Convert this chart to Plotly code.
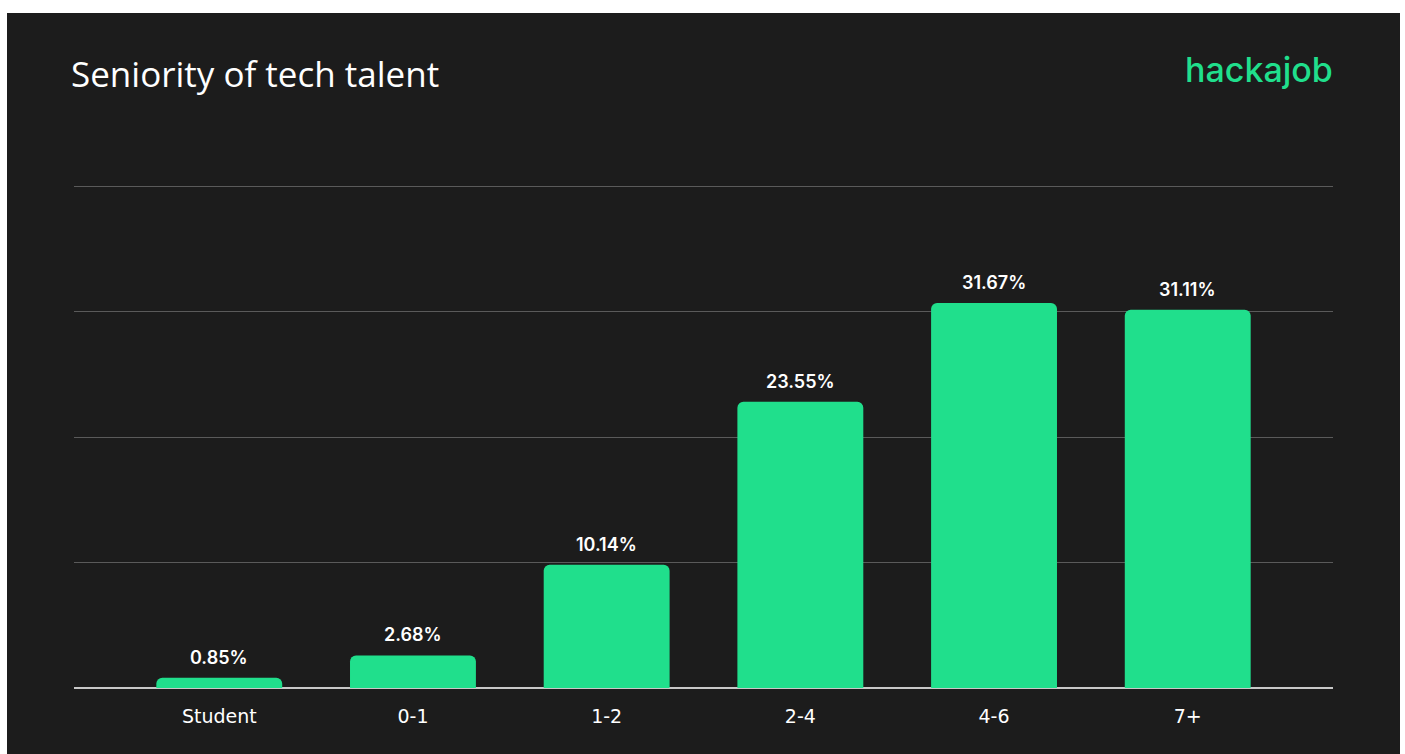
import plotly.graph_objects as go

# Data
categories = ["Student", "0-1", "1-2", "2-4", "4-6", "7+"]
shares = [0.85, 2.68, 10.14, 23.55, 31.67, 31.11]

BG = "#1c1c1c"
GREEN = "#20df8c"
W, H = 1405, 754
L, R, T, B = 74, 72, 182, 66
Y_MAX = 41.3                      # top gridline value
PX_PER_UNIT = (H - B - 186) / Y_MAX
Y_TOP = Y_MAX + (186 - T) / PX_PER_UNIT   # a little headroom above the top gridline
grid_vals = [Y_MAX * i / 4 for i in range(5)]

fig = go.Figure()
fig.add_trace(go.Bar(
    x=categories,
    y=shares,
    width=0.65,
    marker=dict(color=GREEN, line=dict(width=0), cornerradius=6),
    hoverinfo="skip",
))

# value labels above each bar
for c, v in zip(categories, shares):
    fig.add_annotation(
        x=c, y=v, text=f"{v:.2f}%", showarrow=False,
        yanchor="bottom", yshift=8,
        font=dict(family="Inter", size=18, color="#ffffff", weight=600),
    )

pw, ph = W - L - R, H - T - B
def px_x(p):
    return (p - L) / pw
def px_y(p):
    return (H - B - p) / ph

# dark card sitting on the white page
fig.add_shape(
    type="rect", xref="paper", yref="paper", layer="below",
    x0=px_x(7), x1=px_x(1400), y0=px_y(754), y1=px_y(13),
    fillcolor=BG, line=dict(width=0),
)

fig.add_annotation(
    xref="paper", yref="paper", x=px_x(69), y=px_y(74),
    xanchor="left", yanchor="middle", showarrow=False,
    text="Seniority of tech talent",
    font=dict(family="Open Sans", size=35, color="#ffffff"),
)
fig.add_annotation(
    xref="paper", yref="paper", x=px_x(1335), y=px_y(70),
    xanchor="right", yanchor="middle", showarrow=False,
    text="hackajob",
    font=dict(family="Inter", size=34, color=GREEN, weight=500),
)

fig.update_layout(
    width=W, height=H,
    margin=dict(l=L, r=R, t=T, b=B, pad=0),
    paper_bgcolor="#ffffff",
    plot_bgcolor="rgba(0,0,0,0)",
    showlegend=False,
    xaxis=dict(
        range=[-0.75, 5.75], showgrid=False, zeroline=False,
        showline=False, ticks="", ticklabelstandoff=15,
        tickfont=dict(family="DejaVu Sans", size=19, color="#ffffff"),
    ),
    yaxis=dict(
        range=[0, Y_TOP], tickvals=grid_vals, showticklabels=False,
        showgrid=True, gridcolor="#5a5a5a", gridwidth=1,
        zeroline=True, zerolinecolor="#c8c8c8", zerolinewidth=2,
        showline=False,
    ),
)

fig.write_html("out.html")
